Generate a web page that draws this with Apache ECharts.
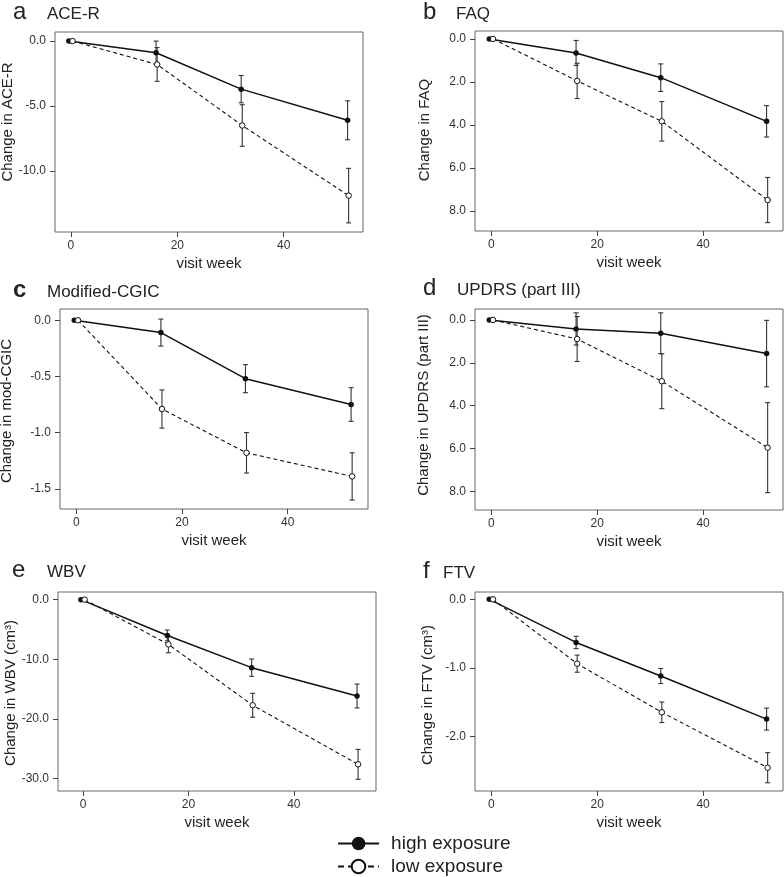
<!DOCTYPE html>
<html>
<head>
<meta charset="utf-8">
<script src="https://cdn.jsdelivr.net/npm/echarts@6/dist/echarts.min.js"></script>
<style>html,body{margin:0;padding:0;background:#fff}#c{width:784px;height:877px}</style>
</head>
<body>
<div id="c"></div>
<script>
// ---- data ----
const weeksHigh = [-0.4, 16, 32, 52];
const weeksLow = [0.3, 16.2, 32.2, 52.2];

const aceHigh = [0, -0.9, -3.7, -6.1];
const aceHighErr = [0, 0.9, 1.05, 1.5];
const aceLow = [0, -1.8, -6.5, -11.9];
const aceLowErr = [0, 1.3, 1.6, 2.1];

const faqHigh = [0, 0.65, 1.8, 3.83];
const faqHighErr = [0, 0.58, 0.64, 0.73];
const faqLow = [0, 1.95, 3.83, 7.49];
const faqLowErr = [0, 0.82, 0.92, 1.05];

const cgicHigh = [0, -0.11, -0.52, -0.75];
const cgicHighErr = [0, 0.12, 0.125, 0.15];
const cgicLow = [0, -0.79, -1.18, -1.39];
const cgicLowErr = [0, 0.17, 0.18, 0.21];

const updrsHigh = [0, 0.42, 0.62, 1.57];
const updrsHighErr = [0, 0.75, 0.95, 1.55];
const updrsLow = [0, 0.89, 2.86, 5.96];
const updrsLowErr = [0, 1.05, 1.28, 2.1];

const wbvHigh = [0, -6.0, -11.4, -16.15];
const wbvHighErr = [0, 0.9, 1.45, 2.0];
const wbvLow = [0, -7.5, -17.7, -27.6];
const wbvLowErr = [0, 1.4, 2.0, 2.5];

const ftvHigh = [0, -0.63, -1.12, -1.75];
const ftvHighErr = [0, 0.09, 0.11, 0.16];
const ftvLow = [0, -0.94, -1.65, -2.46];
const ftvLowErr = [0, 0.125, 0.15, 0.22];

const xTicks = [0, 20, 40];
const aceTicks = [0, -5, -10];
const faqTicks = [0, 2, 4, 6, 8];
const cgicTicks = [0, -0.5, -1, -1.5];
const updrsTicks = [0, 2, 4, 6, 8];
const wbvTicks = [0, -10, -20, -30];
const ftvTicks = [0, -1, -2];

const letters = ['a', 'b', 'c', 'd', 'e', 'f'];
const titles = ['ACE-R', 'FAQ', 'Modified-CGIC', 'UPDRS (part III)', 'WBV', 'FTV'];
const yNames = ['Change in ACE-R', 'Change in FAQ', 'Change in mod-CGIC', 'Change in UPDRS (part III)', 'Change in WBV (cm³)', 'Change in FTV (cm³)'];
const xName = 'visit week';
const seriesNames = ['high exposure', 'low exposure'];

// ---- layout ----
const FONT = '"Liberation Sans", Arial, Helvetica, sans-serif';
const panels = [
  {hi: aceHigh, hiE: aceHighErr, lo: aceLow, loE: aceLowErr, ticks: aceTicks, inv: false, ymin: -14.7, ymax: 0.7, xmin: -3.0, xmax: 54.9,
   box: [55, 32, 308, 200], letter: [13, 20], title: [47, 20], yname: [8, 122]},
  {hi: faqHigh, hiE: faqHighErr, lo: faqLow, loE: faqLowErr, ticks: faqTicks, inv: true, ymin: -0.37, ymax: 8.93, xmin: -3.1, xmax: 55.1,
   box: [475, 31, 308, 200], letter: [423, 20], title: [456, 20], yname: [425, 130]},
  {hi: cgicHigh, hiE: cgicHighErr, lo: cgicLow, loE: cgicLowErr, ticks: cgicTicks, inv: false, ymin: -1.68, ymax: 0.1, xmin: -3.1, xmax: 55.2,
   box: [60, 309, 308, 200], letter: [13, 298], title: [47, 298], yname: [7, 411]},
  {hi: updrsHigh, hiE: updrsHighErr, lo: updrsLow, loE: updrsLowErr, ticks: updrsTicks, inv: true, ymin: -0.51, ymax: 8.87, xmin: -3.1, xmax: 55.1,
   box: [475, 309, 308, 201], letter: [423, 296], title: [457, 296], yname: [424, 405]},
  {hi: wbvHigh, hiE: wbvHighErr, lo: wbvLow, loE: wbvLowErr, ticks: wbvTicks, inv: false, ymin: -32.07, ymax: 1.28, xmin: -4.75, xmax: 55.6,
   box: [58, 592, 318, 199], letter: [12, 578], title: [47, 578], yname: [11, 693]},
  {hi: ftvHigh, hiE: ftvHighErr, lo: ftvLow, loE: ftvLowErr, ticks: ftvTicks, inv: false, ymin: -2.80, ymax: 0.107, xmin: -3.1, xmax: 55.1,
   box: [475, 592, 308, 199], letter: [423, 579], title: [443, 579], yname: [428, 695]}
];

const grids = [], xAxes = [], yAxes = [], series = [], graphics = [];

function errSeries(idx, weeks, vals, errs) {
  const data = [];
  for (let i = 0; i < vals.length; i++) if (errs[i] > 0) data.push([weeks[i], vals[i], errs[i]]);
  return {
    type: 'custom', xAxisIndex: idx, yAxisIndex: idx, silent: true, z: 2,
    encode: {x: 0, y: 1},
    data: data,
    renderItem: function (params, api) {
      const x = api.value(0), y = api.value(1), e = api.value(2);
      const p1 = api.coord([x, y + e]);
      const p2 = api.coord([x, y - e]);
      const w = 2.5;
      const st = {stroke: '#333', lineWidth: 1.1};
      return {type: 'group', children: [
        {type: 'line', shape: {x1: p1[0], y1: p1[1], x2: p2[0], y2: p2[1]}, style: st},
        {type: 'line', shape: {x1: p1[0] - w, y1: p1[1], x2: p1[0] + w, y2: p1[1]}, style: st},
        {type: 'line', shape: {x1: p2[0] - w, y1: p2[1], x2: p2[0] + w, y2: p2[1]}, style: st}
      ]};
    }
  };
}

panels.forEach(function (p, i) {
  grids.push({left: p.box[0], top: p.box[1], width: p.box[2], height: p.box[3], show: true,
    borderColor: '#666', borderWidth: 1, backgroundColor: 'transparent', containLabel: false});
  xAxes.push({type: 'value', gridIndex: i, min: p.xmin, max: p.xmax, position: 'bottom',
    name: xName, nameLocation: 'middle', nameGap: 24,
    nameTextStyle: {fontSize: 15, color: '#222', fontFamily: FONT, verticalAlign: 'top'},
    axisLine: {show: false, onZero: false}, splitLine: {show: false},
    axisTick: {show: true, inside: false, length: 5, customValues: xTicks, lineStyle: {color: '#444'}},
    axisLabel: {customValues: xTicks, fontSize: 12, color: '#333', margin: 8, fontFamily: FONT}});
  yAxes.push({type: 'value', gridIndex: i, min: p.ymin, max: p.ymax, inverse: p.inv, position: 'left',
    axisLine: {show: false, onZero: false}, splitLine: {show: false},
    axisTick: {show: true, inside: false, length: 5, customValues: p.ticks, lineStyle: {color: '#444'}},
    axisLabel: {customValues: p.ticks, fontSize: 12, color: '#333', margin: 9, fontFamily: FONT,
      formatter: function (v) { return (Math.abs(v) < 1e-9 ? 0 : v).toFixed(1); }}});
  series.push(errSeries(i, weeksHigh, p.hi, p.hiE));
  series.push(errSeries(i, weeksLow, p.lo, p.loE));
  series.push({type: 'line', name: seriesNames[0], xAxisIndex: i, yAxisIndex: i, z: 3,
    data: p.hi.map(function (v, k) { return [weeksHigh[k], v]; }),
    symbol: 'circle', symbolSize: 5.5, showSymbol: true,
    itemStyle: {color: '#111', borderColor: '#111', borderWidth: 0},
    lineStyle: {color: '#111', width: 1.5, type: 'solid'}, animation: false});
  series.push({type: 'line', name: seriesNames[1], xAxisIndex: i, yAxisIndex: i, z: 3,
    data: p.lo.map(function (v, k) { return [weeksLow[k], v]; }),
    symbol: 'circle', symbolSize: 5.5, showSymbol: true,
    itemStyle: {color: '#fff', borderColor: '#111', borderWidth: 1},
    lineStyle: {color: '#111', width: 1.1, type: [4, 3]}, animation: false});
  graphics.push({type: 'text', left: p.letter[0], top: p.letter[1] - 24 * 0.8,
    style: {text: letters[i], font: (i === 2 ? 'bold ' : '') + '24px ' + FONT, fill: '#222'}});
  graphics.push({type: 'text', left: p.title[0], top: p.title[1] - 17 * 0.85,
    style: {text: titles[i], font: '17px ' + FONT, fill: '#222'}});
  graphics.push({type: 'text', x: p.yname[0], y: p.yname[1], rotation: Math.PI / 2,
    style: {text: yNames[i], font: '15px ' + FONT, fill: '#222', align: 'center', verticalAlign: 'middle'}});
});

const legendCommon = {orient: 'vertical', left: 337, padding: 0, itemWidth: 41, itemHeight: 17, itemGap: 0,
  textStyle: {fontSize: 19, color: '#222', fontFamily: FONT, padding: [0, 0, 0, 7]}};

const chart = echarts.init(document.getElementById('c'), null, {renderer: 'canvas'});
chart.setOption({
  animation: false,
  backgroundColor: '#fff',
  grid: grids, xAxis: xAxes, yAxis: yAxes, series: series,
  graphic: graphics,
  legend: [
    Object.assign({}, legendCommon, {data: [seriesNames[0]], top: 834, lineStyle: {width: 2.2}}),
    Object.assign({}, legendCommon, {data: [seriesNames[1]], top: 857, lineStyle: {width: 2, type: [6, 4]}})
  ]
});
</script>
</body>
</html>
